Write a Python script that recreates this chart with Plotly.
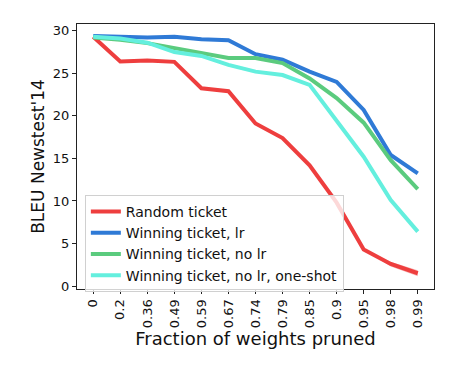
import plotly.graph_objects as go

fractions = ["0", "0.2", "0.36", "0.49", "0.59", "0.67", "0.74", "0.79", "0.85", "0.9", "0.95", "0.98", "0.99"]
random_ticket = [29.3, 26.4, 26.5, 26.35, 23.25, 22.9, 19.1, 17.4, 14.2, 9.8, 4.3, 2.6, 1.5]
random_lo = [29.3, 26.4, 26.5, 26.35, 23.25, 22.9, 19.1, 17.4, 14.2, 9.8, 4.3, 2.3, 1.15]
random_hi = [29.3, 26.4, 26.5, 26.35, 23.25, 22.9, 19.1, 17.4, 14.2, 9.8, 4.3, 2.85, 1.85]
winning_lr = [29.4, 29.35, 29.2, 29.3, 29.0, 28.9, 27.25, 26.6, 25.2, 24.0, 20.7, 15.4, 13.25]
winning_nolr = [29.2, 28.95, 28.55, 27.95, 27.45, 26.8, 26.8, 26.2, 24.4, 22.1, 19.2, 14.8, 11.4]
winning_oneshot = [29.3, 29.1, 28.6, 27.5, 27.05, 26.0, 25.2, 24.8, 23.65, 19.5, 15.2, 10.1, 6.4]

names = ["Random ticket", "Winning ticket, lr", "Winning ticket, no lr", "Winning ticket, no lr, one-shot"]
colors = ["#EE3E3E", "#2F7AD6", "#5BCB7E", "#64EFDE"]
series = [random_ticket, winning_lr, winning_nolr, winning_oneshot]

fig = go.Figure()
# error band of random ticket
fig.add_trace(go.Scatter(x=fractions, y=random_hi, mode="lines", line=dict(width=0),
                         showlegend=False, hoverinfo="skip"))
fig.add_trace(go.Scatter(x=fractions, y=random_lo, mode="lines", line=dict(width=0),
                         fill="tonexty", fillcolor="rgba(238,62,62,0.35)",
                         showlegend=False, hoverinfo="skip"))
for name, col, ys in zip(names, colors, series):
    fig.add_trace(go.Scatter(x=fractions, y=ys, mode="lines", name=name,
                             line=dict(color=col, width=4)))

axis_common = dict(showline=True, linecolor="#222", linewidth=1.2, mirror=True,
                   ticks="outside", ticklen=4, tickcolor="#222", showgrid=False,
                   zeroline=False, tickfont=dict(family="DejaVu Sans", size=13, color="#111"))

# page body has an 8px default margin, so offsets are compensated here
fig.update_layout(
    width=474, height=376,
    margin=dict(l=69, r=48, t=16, b=95),
    plot_bgcolor="white", paper_bgcolor="white",
    font=dict(family="DejaVu Sans", color="#111"),
    xaxis=dict(type="category", range=[-0.6, 12.6], tickangle=-90,
               title=dict(text="Fraction of weights pruned", font=dict(size=18), standoff=5),
               **axis_common),
    yaxis=dict(range=[-0.35, 30.8], tickvals=[0, 5, 10, 15, 20, 25, 30],
               title=dict(text="BLEU Newstest'14", font=dict(size=17), standoff=3),
               **axis_common),
    legend=dict(x=0.022, y=0.355, xanchor="left", yanchor="top", traceorder="normal",
                bgcolor="rgba(255,255,255,0.8)", bordercolor="#d0d0d0", borderwidth=1,
                font=dict(family="DejaVu Sans", size=14, color="#111"),
                tracegroupgap=0, itemwidth=30),
)

fig.write_html("out.html")
